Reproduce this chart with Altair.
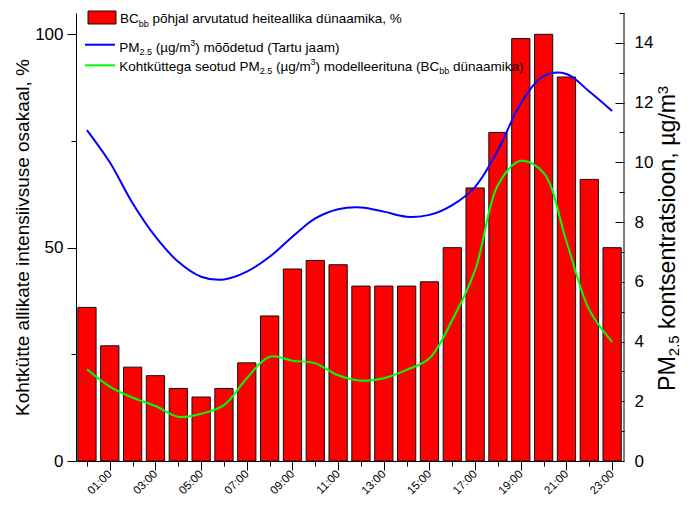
import altair as alt
import pandas as pd

# ---------------- data ----------------
hours = list(range(24))
bc_share = [36, 27, 22, 20, 17, 15, 17, 23, 34, 45, 47, 46,
            41, 41, 41, 42, 50, 64, 77, 99, 100, 90, 66, 50]
pm_measured = [11.08, 10.0, 8.63, 7.51, 6.67, 6.17, 6.08, 6.34, 6.84, 7.51, 8.12, 8.43,
               8.49, 8.35, 8.18, 8.24, 8.57, 9.18, 10.41, 11.97, 12.89, 12.96, 12.37, 11.72]
pm_modelled = [3.07, 2.49, 2.12, 1.84, 1.48, 1.58, 1.87, 2.77, 3.49, 3.36, 3.27, 2.87,
               2.69, 2.77, 3.05, 3.44, 4.72, 6.39, 9.24, 10.05, 9.65, 7.35, 5.06, 3.99]
left_ticks = [0, 25, 50, 75, 100]
right_major = [0, 2, 4, 6, 8, 10, 12, 14]
right_minor = [1, 3, 5, 7, 9, 11, 13, 15]

left_title = "Kohtkütte allikate intensiivsuse osakaal, %"
# legend / title pieces: (text, kind) kind: n=normal, sub=subscript, sup=superscript
legend1 = [("BC", "n"), ("bb", "sub"), (" põhjal arvutatud heiteallika dünaamika, %", "n")]
legend2 = [("PM", "n"), ("2.5", "sub"), (" (µg/m", "n"), ("3", "sup"), (") mõõdetud (Tartu jaam)", "n")]
legend3 = [("Kohtküttega seotud PM", "n"), ("2.5", "sub"), (" (µg/m", "n"), ("3", "sup"),
           (") modelleerituna (BC", "n"), ("bb", "sub"), (" dünaamika)", "n")]
right_title = [("PM", "n"), ("2.5", "sub"), (" kontsentratsioon, µg/m", "n"), ("3", "sup")]

W, H = 548, 448
FONT = "Liberation Sans"
RED, BLUE, GREEN = "#ff0000", "#0000ff", "#00ff00"

# Arial / Liberation Sans advance widths (1/1000 em)
AW = {" ": 278, "%": 889, "(": 333, ")": 333, ",": 278, ".": 278, "/": 278, ":": 278,
      "B": 667, "C": 722, "K": 667, "M": 833, "P": 667, "T": 611,
      "a": 556, "b": 556, "c": 500, "d": 556, "e": 556, "f": 278, "g": 556, "h": 556,
      "i": 222, "j": 222, "k": 500, "l": 222, "m": 833, "n": 556, "o": 556, "p": 556,
      "r": 333, "s": 500, "t": 278, "u": 556, "v": 500, "ü": 556, "õ": 556, "µ": 556}
for d in "0123456789":
    AW[d] = 556


def tw(s, size):
    return sum(AW.get(c, 556) for c in s) * size / 1000.0


one = alt.Data(values=[{}])


def text_layers(parts, x0, y0, size, sub_size, sub_shift, sup_shift, angle=0):
    layers = []
    pos = 0.0
    for text, kind in parts:
        fs = size if kind == "n" else sub_size
        shift = 0 if kind == "n" else (sub_shift if kind == "sub" else sup_shift)
        t = text
        while t.startswith(" "):
            pos += tw(" ", fs)
            t = t[1:]
        if angle == 0:
            x, y = x0 + pos, y0 + shift
        else:  # 270: reading upwards, glyph "down" = +x
            x, y = x0 + shift, y0 - pos
        layers.append(
            alt.Chart(one).mark_text(
                text=t, align="left", baseline="alphabetic", font=FONT, fontSize=fs,
                angle=angle, color="black",
            ).encode(x=alt.value(x), y=alt.value(y))
        )
        pos += tw(t, fs)
    return layers


text_marks = []
text_marks += text_layers(legend1, 44, 10.3, 13.5, 9, 3.5, -5.5)
text_marks += text_layers(legend2, 43.3, 38.7, 13.5, 9, 3.5, -5.5)
text_marks += text_layers(legend3, 43.3, 57.7, 13.5, 9, 3.5, -5.5)
text_marks += text_layers(right_title, W + 51, 378, 23.2, 15, 3.5, -7, angle=270)

df_bar = pd.DataFrame({"hour": hours, "share": bc_share})
df_blue = pd.DataFrame({"hour": hours, "pm": pm_measured})
df_green = pd.DataFrame({"hour": hours, "pm": pm_modelled})

x_scale = alt.Scale(domain=[-0.48, 23.52], nice=False, zero=False)
yl_scale = alt.Scale(domain=[0, 105], nice=False)
yr_scale = alt.Scale(domain=[0, 15], nice=False)

x_axis = alt.Axis(
    orient="bottom",
    values=hours,
    labelExpr="datum.value % 2 == 1 ? (datum.value < 10 ? '0' : '') + datum.value + ':00' : ''",
    labelAngle=-45, labelAlign="right", labelBaseline="middle", labelFont=FONT, labelFontSize=11.5,
    labelColor="black", labelPadding=2, labelOverlap=False, labelFlush=False,
    tickSize={"condition": {"test": "datum.value % 2 == 1", "value": 9}, "value": 5},
    tickColor="black", tickWidth=1, domainColor="black", domainWidth=1, grid=False, title=None,
)
left_axis = alt.Axis(
    orient="left", values=left_ticks,
    labelExpr="datum.value % 50 == 0 ? datum.label : ''",
    tickSize={"condition": {"test": "datum.value % 50 == 0", "value": 9}, "value": 5},
    tickColor="black", domainColor="black", grid=False,
    labelFont=FONT, labelFontSize=17, labelColor="black", labelPadding=4,
    title=left_title, titleFont=FONT, titleFontSize=19, titleFontWeight="normal",
    titleColor="black", titlePadding=2,
)
right_major_axis = alt.Axis(
    orient="right", values=right_major, tickSize=9, offset=-9, domain=False,
    tickColor="black", grid=False, labelFont=FONT, labelFontSize=17, labelColor="black",
    labelPadding=10, title=None,
)
right_minor_axis = alt.Axis(
    orient="right", values=right_minor, tickSize=5, offset=-5, domain=False,
    tickColor="black", grid=False, labels=False, title=None,
)

bars = alt.Chart(df_bar).transform_calculate(
    x0="datum.hour - 0.4", x1="datum.hour + 0.4", base="0"
).mark_bar(color=RED, stroke="#111111", strokeWidth=1).encode(
    x=alt.X("x0:Q", scale=x_scale, axis=x_axis),
    x2="x1:Q",
    y=alt.Y("share:Q", scale=yl_scale, axis=left_axis),
    y2="base:Q",
)

blue = alt.Chart(df_blue).mark_line(color=BLUE, strokeWidth=2, interpolate="catmull-rom").encode(
    x=alt.X("hour:Q", scale=x_scale, axis=x_axis),
    y=alt.Y("pm:Q", scale=yr_scale, axis=right_major_axis),
)
green = alt.Chart(df_green).mark_line(color=GREEN, strokeWidth=2, interpolate="catmull-rom").encode(
    x=alt.X("hour:Q", scale=x_scale, axis=x_axis),
    y=alt.Y("pm:Q", scale=yr_scale, axis=right_minor_axis),
)
lines = alt.layer(blue, green).resolve_axis(y="independent")

frame_right = alt.Chart(one).mark_rule(color="black", strokeWidth=1).encode(
    x=alt.value(W), y=alt.value(0), y2=alt.value(H)
)
leg_rect = alt.Chart(one).mark_rect(fill=RED, stroke="#111111", strokeWidth=1).encode(
    x=alt.value(12), x2=alt.value(40), y=alt.value(-2), y2=alt.value(11)
)
leg_blue = alt.Chart(one).mark_rule(color=BLUE, strokeWidth=2).encode(
    x=alt.value(9), x2=alt.value(39), y=alt.value(31.7)
)
leg_green = alt.Chart(one).mark_rule(color=GREEN, strokeWidth=2).encode(
    x=alt.value(9), x2=alt.value(39), y=alt.value(52.3)
)

chart = alt.layer(bars, lines, frame_right, leg_rect, leg_blue, leg_green, *text_marks).resolve_scale(
    y="independent"
).properties(
    width=W, height=H,
    autosize=alt.AutoSizeParams(type="none"),
    padding={"left": 68, "top": 5, "right": 59, "bottom": 39},
    background="white",
).configure_view(stroke=None)

chart.save("out.html", embed_options={"renderer": "svg", "actions": False})
